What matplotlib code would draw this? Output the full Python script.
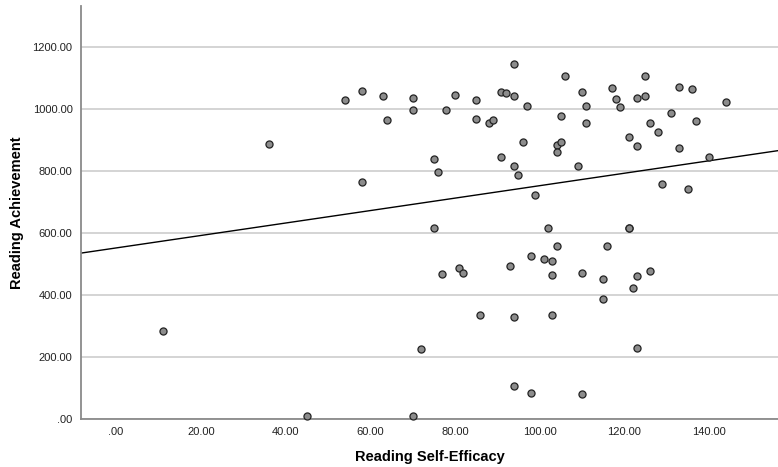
import matplotlib
matplotlib.use("Agg")
import matplotlib.pyplot as plt
from matplotlib.ticker import FuncFormatter

# reading self-efficacy (x) and reading achievement (y)
self_efficacy = [36, 54, 58, 58, 63, 64, 70, 70, 75, 76, 78, 80, 85, 85, 88, 89,
                 91, 92, 91, 94, 94, 94, 95, 96, 97, 99, 102, 105, 104, 105, 104,
                 106, 109, 110, 111, 111, 117, 118, 119, 121, 121, 121, 123, 123,
                 125, 125, 126, 128, 129, 131, 133, 133, 135, 136, 137, 140, 144,
                 75, 11, 45, 70, 72, 104, 116, 98, 101, 103, 93, 81, 82, 77, 103,
                 110, 115, 123, 126, 122, 115, 86, 94, 103, 123, 94, 98, 110]
achievement = [888, 1031, 1058, 766, 1043, 965, 1036, 998, 838, 796, 998, 1047,
               1030, 968, 957, 966, 1057, 1053, 845, 1145, 1044, 818, 786, 894,
               1009, 724, 615, 979, 885, 894, 861, 1108, 818, 1054, 1011, 956,
               1069, 1034, 1006, 615, 618, 910, 882, 1037, 1108, 1043, 955, 925,
               760, 987, 1073, 876, 743, 1066, 961, 847, 1022,
               616, 284, 9, 9, 226, 557, 557, 527, 515, 510, 495, 488, 472, 467,
               465, 470, 452, 461, 476, 423, 388, 337, 328, 335, 230, 106, 84, 79]

# fit line as drawn in the chart
fit_intercept = 552
fit_slope = 2.01

x_ticks = [0, 20, 40, 60, 80, 100, 120, 140]
y_ticks = [0, 200, 400, 600, 800, 1000, 1200]


def spss_fmt(v, pos):
    s = "%.2f" % v
    if s.startswith("0."):
        s = s[1:]
    return s


plt.rcParams['font.family'] = ['Liberation Sans', 'DejaVu Sans']

fig = plt.figure(figsize=(7.78, 4.67), dpi=100)
ax = fig.add_axes([0.104, 0.103, 0.896, 0.884])

ax.set_xlim(-8.3, 156.3)
ax.set_ylim(0, 1333)

ax.set_yticks(y_ticks)
ax.set_xticks(x_ticks)
ax.xaxis.set_major_formatter(FuncFormatter(spss_fmt))
ax.yaxis.set_major_formatter(FuncFormatter(spss_fmt))
ax.tick_params(length=0, labelsize=8, colors="#222222", pad=6)
ax.grid(axis="y", color="#d4d4d4", linewidth=1.4)
ax.set_axisbelow(True)

for side in ["top", "right"]:
    ax.spines[side].set_visible(False)
for side in ["left", "bottom"]:
    ax.spines[side].set_color("#8a8a8a")
    ax.spines[side].set_linewidth(1.3)

xl = ax.get_xlim()
ax.plot(xl, [fit_intercept + fit_slope * v for v in xl], color="black", linewidth=1.0, zorder=2)

ax.scatter(self_efficacy, achievement, s=26, facecolor="#8c8c8c", edgecolor="#222222",
           linewidth=0.9, zorder=3, clip_on=False)

ax.set_xlabel("Reading Self-Efficacy", fontsize=10.5, fontweight="bold", labelpad=9)
ax.set_ylabel("Reading Achievement", fontsize=10.5, fontweight="bold", labelpad=6)

fig.savefig("out.png", dpi=100)
